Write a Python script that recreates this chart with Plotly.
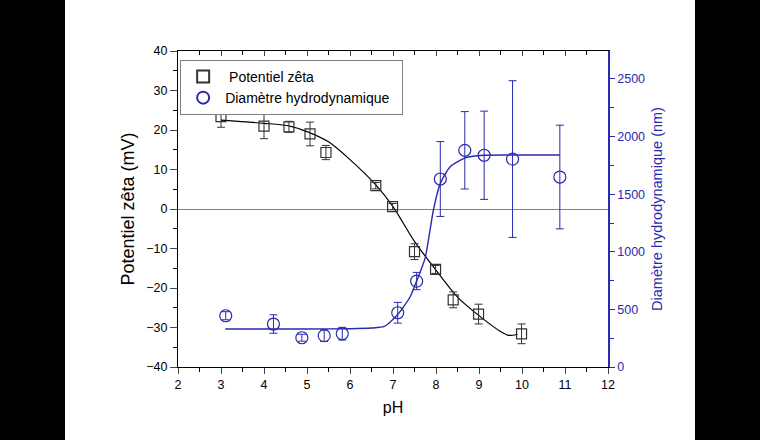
import plotly.graph_objects as go

# --- Potentiel zêta (left axis) ---
ph_zeta = [3.0, 4.0, 4.58, 5.07, 5.44, 6.6, 6.99, 7.5, 7.99, 8.4, 8.99, 9.99]
zeta = [23.4, 21.0, 20.8, 19.0, 14.3, 5.9, 0.6, -10.8, -15.3, -23.0, -26.6, -31.6]
zeta_err = [2.7, 3.2, 1.4, 3.0, 1.8, 0.8, 0.8, 2.0, 1.0, 2.0, 2.5, 2.5]

ph_zeta_fit = [3.0, 4.0, 4.6, 5.0, 5.5, 6.0, 6.6, 7.0, 7.5, 8.0, 8.5, 9.0, 9.5, 9.7, 9.9]
zeta_fit = [22.5, 21.7, 21.0, 19.6, 17.0, 12.5, 6.1, 0.6, -8.2, -15.5, -22.3, -27.0, -31.0, -32.0, -31.7]

# --- Diamètre hydrodynamique (right axis) ---
ph_d = [3.11, 4.22, 4.88, 5.4, 5.82, 7.11, 7.55, 8.10, 8.67, 9.12, 9.78, 10.88]
diam = [445, 373, 254, 272, 289, 471, 746, 1632, 1881, 1838, 1805, 1649]
diam_err = [35, 80, 30, 50, 55, 90, 75, 325, 336, 383, 680, 450]

ph_d_fit = [3.1, 4.0, 5.0, 6.0, 6.5, 6.8, 7.1, 7.4, 7.55, 7.75, 7.94, 8.1, 8.33, 8.7, 9.1, 10.0, 10.88]
diam_fit = [330, 330, 330, 332, 338, 352, 451, 610, 746, 950, 1363, 1594, 1739, 1817, 1838, 1840, 1840]

x_ticks = list(range(2, 13))
zeta_ticks = list(range(-40, 41, 10))
diam_ticks = list(range(0, 2501, 500))

BLUE = "#2A2AAE"
FONT = "Arial, Liberation Sans, sans-serif"

fig = go.Figure()

fig.add_trace(go.Scatter(x=ph_zeta_fit, y=zeta_fit, mode="lines", line=dict(color="black", width=1.2, shape="spline", smoothing=0.8),
                         showlegend=False, hoverinfo="skip"))
fig.add_trace(go.Scatter(x=ph_d_fit, y=diam_fit, mode="lines", yaxis="y2",
                         line=dict(color=BLUE, width=1.4, shape="spline", smoothing=0.6),
                         showlegend=False, hoverinfo="skip"))

fig.add_trace(go.Scatter(x=ph_zeta, y=zeta, mode="markers", name="\u00a0Potentiel zêta",
                         marker=dict(symbol="square-open", size=10, color="#333333", line=dict(width=1.2)),
                         error_y=dict(type="data", array=zeta_err, color="#333333", thickness=1, width=4)))
fig.add_trace(go.Scatter(x=ph_d, y=diam, mode="markers", name="Diamètre hydrodynamique\u00a0\u00a0", yaxis="y2",
                         marker=dict(symbol="circle-open", size=12, color=BLUE, line=dict(width=1.2)),
                         error_y=dict(type="data", array=diam_err, color=BLUE, thickness=1, width=4)))

# dummy trace for top axis
fig.add_trace(go.Scatter(x=[2, 12], y=[None, None], xaxis="x2", showlegend=False, hoverinfo="skip"))

fig.update_layout(
    width=760, height=440,
    margin=dict(l=178, r=152, t=51, b=73),
    paper_bgcolor="white", plot_bgcolor="white",
    font=dict(family=FONT, size=12.5, color="black"),
    showlegend=True,
    legend=dict(x=0.005, y=0.972, xanchor="left", yanchor="top",
                bordercolor="#808080", borderwidth=1, bgcolor="white",
                font=dict(size=14, family=FONT), itemsizing="constant",
                tracegroupgap=0, itemwidth=34),
    xaxis=dict(range=[2, 12], tickvals=x_ticks, ticks="outside", ticklen=6, tickwidth=1,
               showline=True, linecolor="black", linewidth=1.2, showgrid=False, zeroline=False,
               minor=dict(dtick=0.5, ticks="outside", ticklen=4, tickcolor="black"),
               title=dict(text="pH", font=dict(size=16), standoff=10)),
    xaxis2=dict(range=[2, 12], overlaying="x", side="top", tickvals=x_ticks, ticks="inside", ticklen=5,
                showticklabels=False, showline=True, linecolor="black", linewidth=1.2, showgrid=False,
                zeroline=False, minor=dict(dtick=0.5, ticks="inside", ticklen=4, tickcolor="black")),
    yaxis=dict(range=[-40, 40], tickvals=zeta_ticks, ticks="outside", ticklen=7, tickwidth=1,
               showline=True, linecolor="black", linewidth=1.2, showgrid=False,
               zeroline=True, zerolinecolor="#808080", zerolinewidth=1,
               minor=dict(dtick=5, ticks="outside", ticklen=4, tickcolor="black"),
               title=dict(text="Potentiel zêta (mV)", font=dict(size=18), standoff=6)),
    yaxis2=dict(range=[0, 2743], overlaying="y", side="right", tickvals=diam_ticks,
                ticks="outside", ticklen=5, tickwidth=1, tickcolor=BLUE,
                showline=True, linecolor=BLUE, linewidth=1.5, showgrid=False, zeroline=False,
                tickfont=dict(color=BLUE),
                minor=dict(dtick=250, ticks="outside", ticklen=4, tickcolor=BLUE),
                title=dict(text="Diamètre hydrodynamique (nm)", font=dict(size=14.5, color=BLUE), standoff=8)),
    shapes=[
        dict(type="rect", xref="paper", yref="paper", x0=-0.42, x1=-0.2628, y0=-0.24, y1=1.17,
             fillcolor="black", line=dict(width=0), layer="above"),
        dict(type="rect", xref="paper", yref="paper", x0=1.2023, x1=1.36, y0=-0.24, y1=1.17,
             fillcolor="black", line=dict(width=0), layer="above"),
    ],
)

fig.write_html("out.html")
